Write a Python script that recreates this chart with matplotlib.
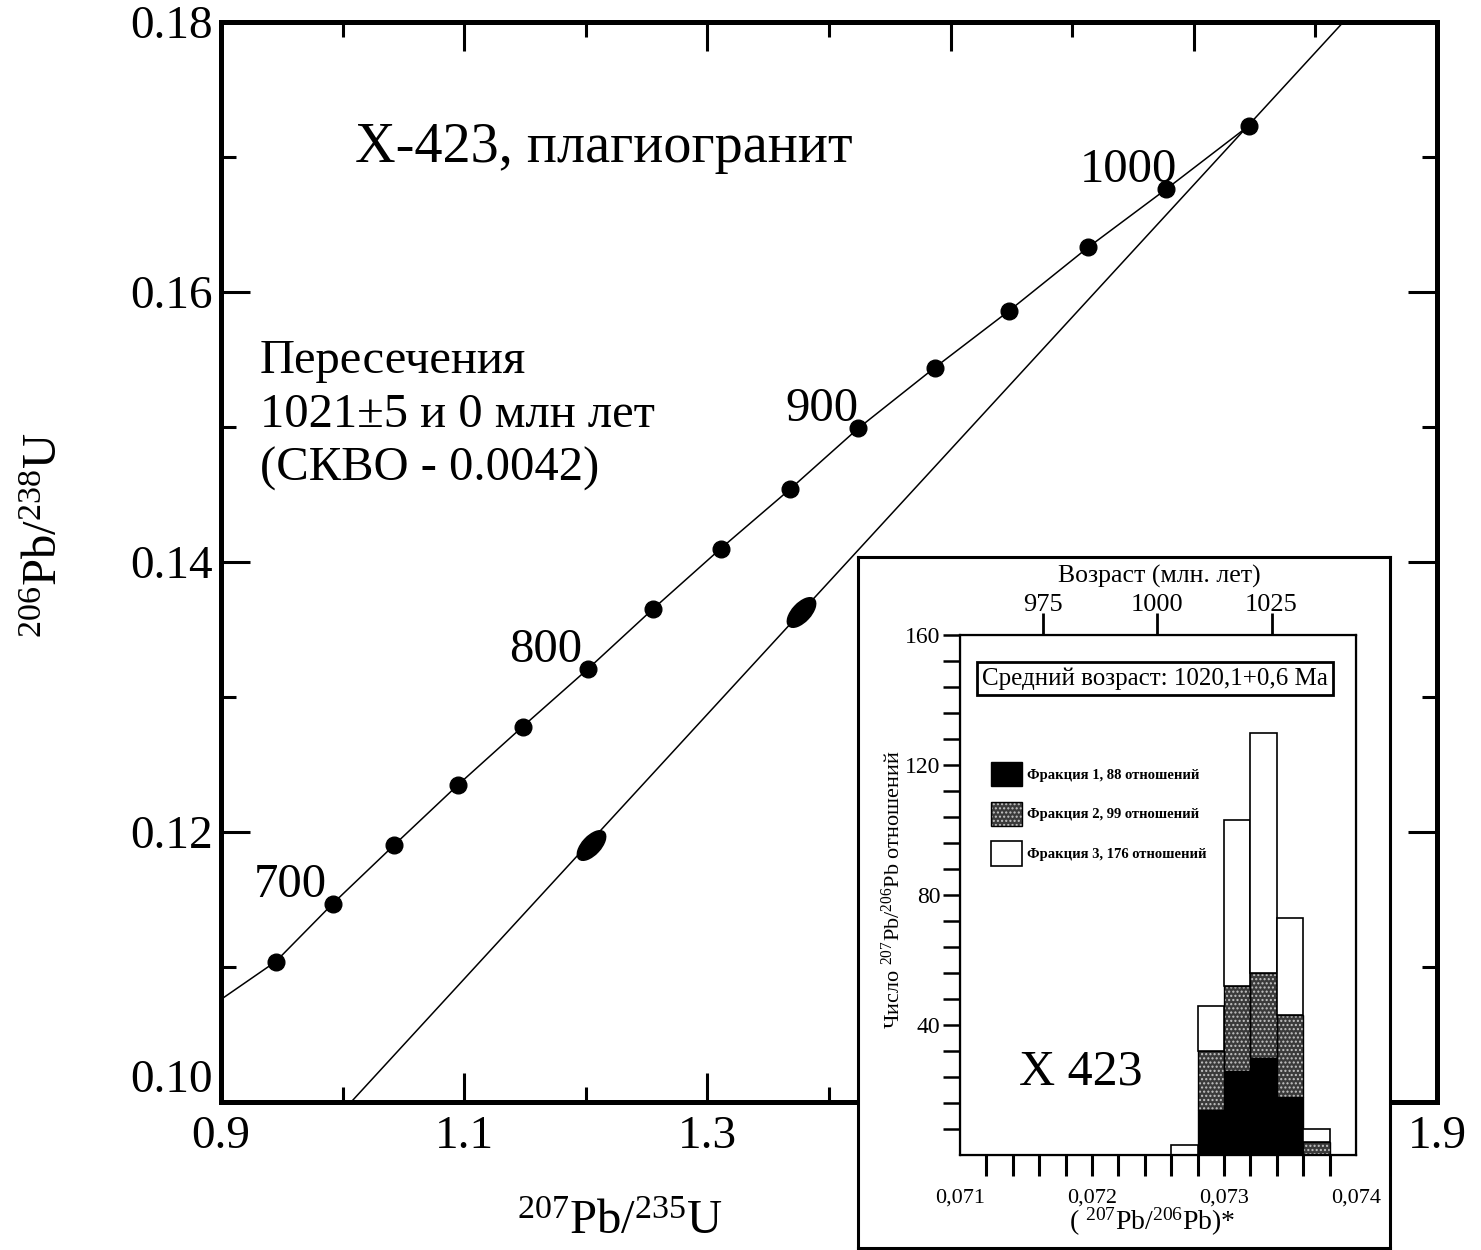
import numpy as np
import matplotlib
matplotlib.use('Agg')
import matplotlib.pyplot as plt
from matplotlib.path import Path
from matplotlib.markers import MarkerStyle
from matplotlib.transforms import Affine2D
from matplotlib.patches import Rectangle
from matplotlib.legend_handler import HandlerTuple
from matplotlib.ticker import FixedLocator, FormatStrFormatter

plt.rcParams['font.family'] = ['Liberation Serif', 'DejaVu Serif']
plt.rcParams['mathtext.fontset'] = 'custom'
plt.rcParams['mathtext.rm'] = 'Liberation Serif'
plt.rcParams['mathtext.it'] = 'Liberation Serif:italic'
plt.rcParams['mathtext.bf'] = 'Liberation Serif:bold'

# concordia points, every 25 Ma
conc_age = [675, 700, 725, 750, 775, 800, 825, 850, 875, 900, 925, 950, 975, 1000, 1025]
conc_x = [0.945, 0.992, 1.042, 1.095, 1.148, 1.202, 1.255, 1.311, 1.368, 1.424,
          1.487, 1.548, 1.613, 1.677, 1.745]
conc_y = [0.1104, 0.1147, 0.1190, 0.1235, 0.1278, 0.1321, 0.1365, 0.1410, 0.1454,
          0.1499, 0.1544, 0.1586, 0.1633, 0.1676, 0.1723]
conc_start = (0.9, 0.1076)   # where the curve enters the frame
label_ages = [700, 800, 900, 1000]
label_dx = [-4, -4, 0, 8]    # nudges of the age labels, points

# discordia through the two zircon ellipses
disc_x = [1.007, 1.823]
disc_y = [0.100, 0.180]
ell_x = [1.204, 1.377]
ell_y = [0.1190, 0.1363]

# inset histogram of 207Pb/206Pb ratios
bin_left = [0.0726, 0.0728, 0.0730, 0.0732, 0.0734, 0.0736]
bin_width = 0.0002
frac1 = [0, 14, 26, 30, 18, 0]
frac2 = [0, 18, 26, 26, 25, 4]
frac3 = [3, 14, 51, 74, 30, 4]
frac_labels = ['Фракция 1, 88 отношений', 'Фракция 2, 99 отношений', 'Фракция 3, 176 отношений']
age_ticks = [975, 1000, 1025]
age_tick_pos = [0.07163, 0.07249, 0.07336]

W, H = 1481, 1250


def px_box(l, t, r, b):
    return [l / W, 1 - b / H, (r - l) / W, (b - t) / H]


fig = plt.figure(figsize=(W / 100, H / 100), dpi=100)

# ---- main concordia plot ----
ax = fig.add_axes(px_box(221, 22, 1437, 1102))
ax.set_xlim(0.9, 1.9)
ax.set_ylim(0.10, 0.18)
ax.xaxis.set_major_locator(FixedLocator(np.arange(0.9, 1.91, 0.2)))
ax.xaxis.set_minor_locator(FixedLocator(np.arange(1.0, 1.9, 0.2)))
ax.yaxis.set_major_locator(FixedLocator(np.arange(0.10, 0.181, 0.02)))
ax.yaxis.set_minor_locator(FixedLocator(np.arange(0.11, 0.18, 0.02)))
ax.xaxis.set_major_formatter(FormatStrFormatter('%.1f'))
ax.yaxis.set_major_formatter(FormatStrFormatter('%.2f'))
ax.tick_params(which='both', direction='in', top=True, right=True, width=2.2)
ax.tick_params(which='major', length=21, labelsize=34)
ax.tick_params(which='minor', length=11)
ax.tick_params(axis='x', pad=10)
ax.tick_params(axis='y', pad=6)
for s in ax.spines.values():
    s.set_linewidth(3.6)

ax.plot([conc_start[0]] + conc_x, [conc_start[1]] + conc_y, color='black', lw=1.1)
ax.plot(conc_x, conc_y, 'o', ms=12, color='black')
ax.plot(disc_x, disc_y, color='black', lw=1.1)

ell_path = Path.unit_circle().transformed(Affine2D().scale(1, 0.5).rotate_deg(47))
ax.plot(ell_x, ell_y, linestyle='none', marker=MarkerStyle(ell_path), ms=22, color='black')

for age, dx in zip(label_ages, label_dx):
    i = conc_age.index(age)
    ax.annotate(str(age), (conc_x[i], conc_y[i]), xytext=(dx, 5), textcoords='offset points',
                ha='right', va='baseline', fontsize=35)

ax.text(0.110, 0.870, 'Х-423, плагиогранит', transform=ax.transAxes, fontsize=40.5,
        ha='left', va='baseline')
info = ['Пересечения', '1021±5 и 0 млн лет', '(СКВО - 0.0042)']
for k, line in enumerate(info):
    ax.text(0.032, 0.675 - k * 0.05, line, transform=ax.transAxes, fontsize=35,
            ha='left', va='baseline')

fig.text(620 / W, 1 - 1222 / H, r'$^{207}$Pb/$^{235}$U', fontsize=35, ha='center', va='center')
fig.text(45 / W, 1 - 535 / H, r'$^{206}$Pb/$^{238}$U', fontsize=35, ha='center', va='center',
         rotation=90)

# ---- inset ----
frame = fig.add_axes(px_box(858, 557, 1390, 1248))
frame.set_xticks([])
frame.set_yticks([])
for s in frame.spines.values():
    s.set_linewidth(2.2)

ins = fig.add_axes(px_box(960, 635, 1356, 1155))
b1 = ins.bar(bin_left, frac1, width=bin_width, align='edge', color='black',
             edgecolor='black', lw=1.0)
b2 = ins.bar(bin_left, frac2, width=bin_width, bottom=frac1, align='edge',
             facecolor='#3a3a3a', edgecolor='#c4c4c4', hatch='....', lw=0)
ins.bar(bin_left, frac2, width=bin_width, bottom=frac1, align='edge', fill=False,
        edgecolor='black', lw=1.0)
b3 = ins.bar(bin_left, frac3, width=bin_width, bottom=np.add(frac1, frac2), align='edge',
             facecolor='white', edgecolor='black', lw=1.2)

ins.set_xlim(0.0710, 0.0740)
ins.set_ylim(0, 160)
ins.set_xticks([0.071, 0.072, 0.073, 0.074])
ins.set_xticklabels(['0,071', '0,072', '0,073', '0,074'])
ins.xaxis.set_minor_locator(FixedLocator(np.arange(0.0712, 0.07381, 0.0002)))
ins.xaxis.remove_overlapping_locs = False
ins.tick_params(axis='x', which='major', length=0, pad=24, labelsize=16)
ins.tick_params(axis='x', which='minor', direction='out', length=15, width=2.2)
ins.set_yticks([40, 80, 120, 160])
ins.yaxis.set_minor_locator(FixedLocator(np.arange(8, 160, 8)))
ins.tick_params(axis='y', which='both', direction='out', length=12, width=1.8)
ins.tick_params(axis='y', which='major', labelsize=17, pad=2)
for s in ins.spines.values():
    s.set_linewidth(1.6)

top = ins.twiny()
top.set_xlim(ins.get_xlim())
top.set_xticks(age_tick_pos)
top.set_xticklabels([str(a) for a in age_ticks])
top.tick_params(axis='x', direction='out', length=16, width=2.0, labelsize=19, pad=-2)

ins.text(0.503, 1.113, 'Возраст (млн. лет)', transform=ins.transAxes, fontsize=18.5,
         ha='center', va='center')
ins.text(0.492, 0.916, 'Средний возраст: 1020,1+0,6 Ма', transform=ins.transAxes,
         fontsize=18, ha='center', va='center',
         bbox=dict(boxstyle='square,pad=0.2', fc='white', ec='black', lw=2))
ins.text(0.306, 0.135, 'Х 423', transform=ins.transAxes, fontsize=36, ha='center',
         va='baseline')
ins.text(-0.168, 0.51, r'Число $^{207}$Pb/$^{206}$Pb отношений', transform=ins.transAxes,
         fontsize=16, rotation=90, ha='center', va='center')
ins.text(0.485, -0.129, r'( $^{207}$Pb/$^{206}$Pb)*', transform=ins.transAxes,
         fontsize=20, ha='center', va='center')

h2 = (Rectangle((0, 0), 1, 1, facecolor='#3a3a3a', edgecolor='#c4c4c4', hatch='....', lw=0),
      Rectangle((0, 0), 1, 1, fill=False, edgecolor='black', lw=1.0))
ins.legend([b1[0], h2, b3[0]], frac_labels, loc='upper left', bbox_to_anchor=(0.078, 0.756),
           frameon=False, borderpad=0, borderaxespad=0, handlelength=2.1, handleheight=2.2,
           labelspacing=1.05, handletextpad=0.35,
           handler_map={tuple: HandlerTuple(ndivide=1, pad=0)},
           prop={'size': 10.5, 'weight': 'bold'})

# the lowest y label sits above its tick in the original
fig.canvas.draw()
for lab in ax.get_yticklabels():
    if lab.get_text() == '0.10':
        lab.set_verticalalignment('bottom')

fig.savefig('out.png', dpi=100)
